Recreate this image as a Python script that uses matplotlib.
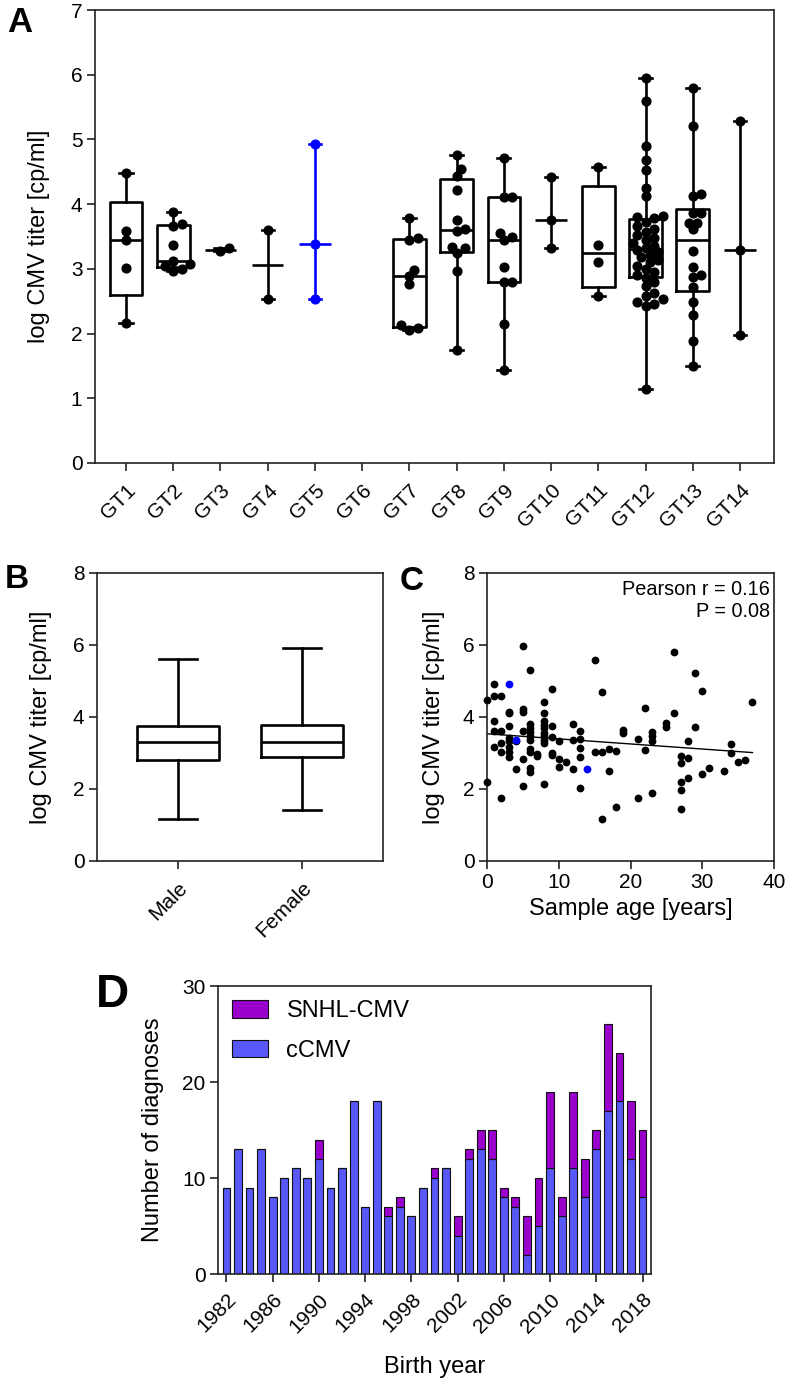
import numpy as np
import matplotlib
matplotlib.use("Agg")
import matplotlib.pyplot as plt

plt.rcParams['font.family'] = ['Liberation Sans', 'DejaVu Sans']

W, H = 787, 1378

# ---- panel A: log CMV titer per genotype ----
gt_labels = ['GT1', 'GT2', 'GT3', 'GT4', 'GT5', 'GT6', 'GT7',
             'GT8', 'GT9', 'GT10', 'GT11', 'GT12', 'GT13', 'GT14']
gt1 = [4.48, 3.59, 3.45, 3.02, 2.17]
gt2 = [3.88, 3.69, 3.66, 3.37, 3.12, 3.08, 3.05, 3.00, 2.97]
gt3 = [3.32, 3.27]
gt4 = [3.60, 2.53]
gt5 = [4.93, 3.38, 2.54]
gt6 = []
gt7 = [3.78, 3.47, 3.45, 2.99, 2.89, 2.76, 2.13, 2.08, 2.05]
gt8 = [4.76, 4.55, 4.44, 4.22, 3.76, 3.61, 3.59, 3.34, 3.33, 3.24, 2.96, 1.75]
gt9 = [4.71, 4.11, 4.11, 3.56, 3.49, 3.45, 3.03, 2.80, 2.80, 2.15, 1.43]
gt10 = [4.42, 3.76, 3.32]
gt11 = [4.58, 3.37, 3.11, 2.58]
gt12 = [1.14, 2.42, 2.45, 2.49, 2.53, 2.58, 2.62, 2.74, 2.80, 2.86,
        2.90, 2.95, 3.00, 3.05, 3.10, 3.14, 3.18, 3.22, 3.26, 3.29,
        3.32, 3.36, 3.40, 3.44, 3.48, 3.52, 3.57, 3.62, 3.66, 3.72,
        3.78, 3.80, 3.82, 4.12, 4.25, 4.53, 4.68, 4.90, 5.60, 5.95]
gt13 = [5.79, 5.21, 4.16, 4.12, 3.86, 3.86, 3.71, 3.71, 3.61, 3.28,
        3.03, 2.91, 2.87, 2.72, 2.49, 2.29, 1.89, 1.50]
gt14 = [5.28, 3.29, 1.98]
gt_data = [gt1, gt2, gt3, gt4, gt5, gt6, gt7, gt8, gt9, gt10, gt11, gt12, gt13, gt14]
blue_group = 'GT5'

# ---- panel B: sex ----
sex_labels = ['Male', 'Female']
sex_min = [1.16, 1.43]
sex_q1 = [2.81, 2.88]
sex_med = [3.31, 3.31]
sex_q3 = [3.76, 3.79]
sex_max = [5.60, 5.93]

# ---- panel C: sample age vs titer ----
age = [0, 0, 1, 1, 1, 1, 1, 2, 2, 2, 2, 2, 3, 3, 3, 3, 3, 3, 3, 3, 4, 4,
       5, 5, 5, 5, 5, 5, 6, 6, 6, 6, 6, 6, 6, 6, 6, 6, 7, 7,
       8, 8, 8, 8, 8, 8, 8, 8, 8, 8, 9, 9, 9, 9, 9, 10, 10, 10, 11,
       12, 12, 12, 13, 13, 13, 13, 13, 15, 15, 16, 16, 16, 17, 17, 18, 18,
       19, 19, 21, 21, 22, 22, 23, 23, 23, 23, 25, 25, 26, 26,
       27, 27, 27, 27, 27, 28, 28, 28, 29, 29, 30, 30, 31, 33, 34, 34, 35, 36, 37]
titer = [4.47, 2.19, 4.92, 4.57, 3.89, 3.61, 3.16, 4.57, 3.61, 3.27, 3.02, 1.74,
         4.15, 4.10, 3.76, 3.41, 3.32, 3.18, 3.04, 2.90, 3.32, 2.55,
         5.96, 4.23, 4.15, 3.60, 2.83, 2.07, 5.31, 3.81, 3.69, 3.58, 3.46, 3.36,
         3.10, 3.04, 2.58, 2.48, 2.97, 2.92,
         4.43, 4.10, 3.89, 3.78, 3.69, 3.55, 3.46, 3.36, 3.27, 2.14,
         4.77, 3.76, 3.44, 3.01, 2.95, 3.32, 2.83, 2.62, 2.76,
         3.81, 3.36, 2.55, 3.61, 3.39, 3.13, 2.90, 2.02, 5.59, 3.04,
         4.69, 3.04, 1.16, 3.11, 2.51, 3.06, 1.51, 3.64, 3.55, 3.38, 1.76,
         4.26, 3.09, 3.57, 3.48, 3.32, 1.90, 3.83, 3.71, 5.80, 4.12,
         2.92, 2.72, 2.19, 1.97, 1.44, 3.32, 2.87, 2.30, 5.22, 3.73,
         4.71, 2.42, 2.58, 2.50, 3.25, 2.99, 2.74, 2.81, 4.43]
age_gt5 = [3, 4, 14]
titer_gt5 = [4.92, 3.35, 2.55]
pearson_text = 'Pearson r = 0.16\nP = 0.08'

# ---- panel D: diagnoses per birth year ----
years = list(range(1982, 2019))
ccmv = [9, 13, 9, 13, 8, 10, 11, 10, 12, 9, 11, 18, 7, 18, 6, 7, 6, 9, 10,
        11, 4, 12, 13, 12, 8, 7, 2, 5, 11, 6, 11, 8, 13, 17, 18, 12, 8]
snhl = [0, 0, 0, 0, 0, 0, 0, 0, 2, 0, 0, 0, 0, 0, 1, 1, 0, 0, 1,
        0, 2, 1, 2, 3, 1, 1, 4, 5, 8, 2, 8, 4, 2, 9, 5, 6, 7]

BLUE = '#0000ff'
BAR_BLUE = '#5858f8'
BAR_PURPLE = '#9a00cc'
TICK_FS = 15
LABEL_FS = 17


def px_axes(fig, l, t, r, b):
    return fig.add_axes([l / W, 1 - b / H, (r - l) / W, (b - t) / H])


def style(ax, fs=TICK_FS):
    for s in ax.spines.values():
        s.set_linewidth(1.2)
        s.set_color('#222222')
    ax.tick_params(direction='out', length=5.5, width=1.2, labelsize=fs, color='#222222')


def swarm(vals, ppx, ppy, d):
    # simple beeswarm: spread overlapping dots sideways
    vals = np.asarray(vals, float)
    offs = np.zeros(len(vals))
    placed = []
    for i in np.argsort(vals):
        y = vals[i] * ppy
        best = 0.0
        for k in range(0, 14):
            found = False
            for sgn in ([0] if k == 0 else [1, -1]):
                x = sgn * k * d * 0.5
                if all((x - px) ** 2 + (y - py) ** 2 >= (0.9 * d) ** 2 for px, py in placed):
                    best = x
                    found = True
                    break
            if found:
                break
        placed.append((best, y))
        offs[i] = best / ppx
    return offs


fig = plt.figure(figsize=(W / 100, H / 100), dpi=100)

# ================= A =================
axA = px_axes(fig, 95, 10, 774, 463)
style(axA)
axA.set_xlim(0.343, 14.72)
axA.set_ylim(0, 7)
axA.set_yticks(range(0, 8))
pos = np.arange(1, len(gt_labels) + 1)
axA.set_xticks(pos)
axA.set_xticklabels(gt_labels, rotation=45, ha='right', rotation_mode='anchor')
axA.tick_params(axis='x', pad=7)
axA.set_ylabel('log CMV titer [cp/ml]', fontsize=LABEL_FS)
axA.yaxis.set_label_coords(-0.066, 0.5)

p0 = axA.transData.transform((1, 0))
p1 = axA.transData.transform((2, 1))
ppx, ppy = p1[0] - p0[0], p1[1] - p0[1]

for x, lab, vals in zip(pos, gt_labels, gt_data):
    if len(vals) == 0:
        continue
    col = BLUE if lab == blue_group else 'black'
    v = np.asarray(vals, float)
    med = np.median(v)
    if len(v) > 3:
        q1, q3 = np.percentile(v, [25, 75], method='weibull')
        showbox, w, cw = True, 0.69, 0.28
    else:
        q1 = q3 = med
        showbox, w, cw = False, 0.66, 0.26
    st = [dict(med=med, q1=q1, q3=q3, whislo=v.min(), whishi=v.max(), fliers=[])]
    lp = dict(color=col, linewidth=1.9)
    axA.bxp(st, positions=[x], widths=w, capwidths=cw, showbox=showbox,
            showfliers=False, boxprops=lp, whiskerprops=lp, capprops=lp,
            medianprops=lp, manage_ticks=False)
    offs = swarm(v, ppx, ppy, 8.5)
    axA.plot(x + offs, v, 'o', ms=6.3, color=col, mec=col, zorder=4, clip_on=False)

# ================= B =================
axB = px_axes(fig, 97, 573, 383, 861)
style(axB)
statsB = [dict(med=m, q1=a, q3=b, whislo=lo, whishi=hi, fliers=[])
          for m, a, b, lo, hi in zip(sex_med, sex_q1, sex_q3, sex_min, sex_max)]
lpB = dict(color='black', linewidth=1.9)
axB.bxp(statsB, positions=[1, 2], widths=0.66, capwidths=0.31, showfliers=False,
        boxprops=lpB, whiskerprops=lpB, capprops=lpB, medianprops=lpB)
axB.set_xlim(0.35, 2.65)
axB.set_ylim(0, 8)
axB.set_yticks([0, 2, 4, 6, 8])
axB.set_xticks([1, 2])
axB.set_xticklabels(sex_labels, rotation=45, ha='right', rotation_mode='anchor')
axB.tick_params(axis='x', pad=7)
axB.set_ylabel('log CMV titer [cp/ml]', fontsize=LABEL_FS)
axB.yaxis.set_label_coords(-0.157, 0.5)

# ================= C =================
axC = px_axes(fig, 487, 573, 774, 861)
style(axC)
axC.plot(age, titer, 'o', ms=4.6, color='black', clip_on=False, zorder=3)
axC.plot(age_gt5, titer_gt5, 'o', ms=4.6, color=BLUE, clip_on=False, zorder=4)
all_age = np.array(age + age_gt5, float)
all_titer = np.array(titer + titer_gt5, float)
slope, icpt = np.polyfit(all_age, all_titer, 1)
xx = np.array([all_age.min(), all_age.max()])
axC.plot(xx, icpt + slope * xx, color='black', lw=1.0, zorder=2)
axC.set_xlim(0, 40)
axC.set_ylim(0, 8)
axC.set_xticks([0, 10, 20, 30, 40])
axC.set_yticks([0, 2, 4, 6, 8])
axC.set_xlabel('Sample age [years]', fontsize=LABEL_FS, labelpad=4)
axC.set_ylabel('log CMV titer [cp/ml]', fontsize=LABEL_FS)
axC.yaxis.set_label_coords(-0.146, 0.5)
axC.text(0.985, 0.975, pearson_text, transform=axC.transAxes, ha='right', va='top',
         fontsize=14.3, linespacing=1.2, multialignment='right')

# ================= D =================
axD = px_axes(fig, 218, 986, 651, 1274)
style(axD, 15)
axD.bar(years, ccmv, width=0.68, color=BAR_BLUE, edgecolor='#111111', linewidth=0.8,
        label='cCMV')
axD.bar(years, snhl, width=0.68, bottom=ccmv, color=BAR_PURPLE, edgecolor='#111111',
        linewidth=0.8, label='SNHL-CMV')
axD.set_xlim(1981.27, 2018.73)
axD.set_ylim(0, 30)
axD.set_yticks([0, 10, 20, 30])
axD.set_xticks(range(1982, 2019, 4))
axD.set_xticklabels([str(y) for y in range(1982, 2019, 4)], rotation=45, ha='right',
                    rotation_mode='anchor')
axD.tick_params(axis='x', pad=6)
axD.set_xlabel('Birth year', fontsize=LABEL_FS, labelpad=14)
axD.set_ylabel('Number of diagnoses', fontsize=LABEL_FS)
axD.yaxis.set_label_coords(-0.125, 0.5)
h, l = axD.get_legend_handles_labels()
axD.legend(h[::-1], l[::-1], loc='upper left', frameon=False, fontsize=17,
           handlelength=1.5, handleheight=0.75, handletextpad=0.8, labelspacing=0.75,
           borderaxespad=0.2, bbox_to_anchor=(0.0, 1.0))

# panel letters
fig.text(20 / W, 1 - 22 / H, 'A', fontsize=25, fontweight='bold', ha='center', va='center')
fig.text(17 / W, 1 - 580 / H, 'B', fontsize=24, fontweight='bold', ha='center', va='center')
fig.text(412 / W, 1 - 582 / H, 'C', fontsize=24, fontweight='bold', ha='center', va='center')
fig.text(112 / W, 1 - 995 / H, 'D', fontsize=33, fontweight='bold', ha='center', va='center')

fig.savefig('out.png', dpi=100)
